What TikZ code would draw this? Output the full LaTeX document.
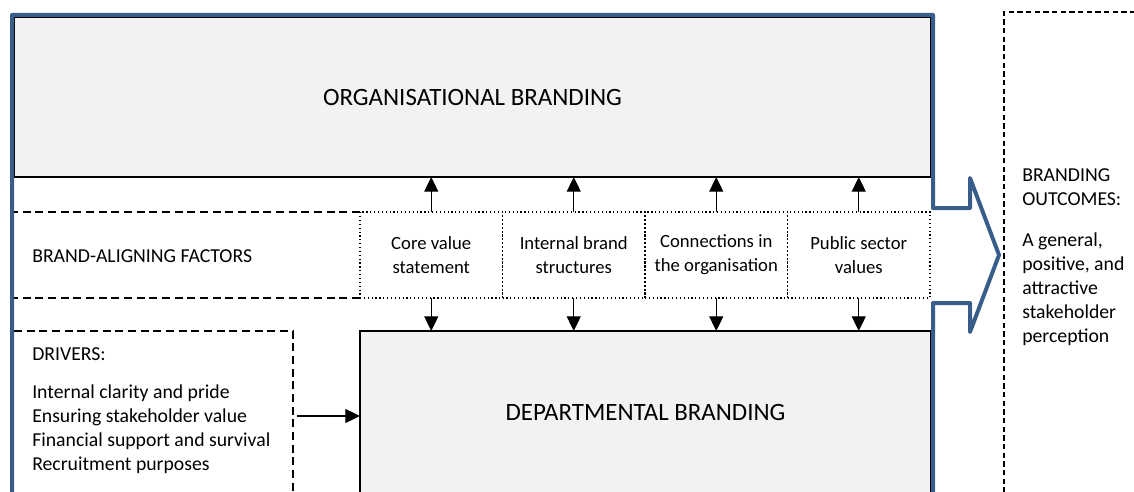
\documentclass[tikz,border=0pt]{standalone}
\usepackage{fontspec}
\setmainfont{Carlito}
\usepackage{tikz}
\usetikzlibrary{arrows.meta,positioning}
\definecolor{frameblue}{HTML}{385D8A}
\definecolor{boxgray}{HTML}{F2F2F2}
\tikzset{
  brandbox/.style={draw=black,line width=1.5pt,fill=boxgray,inner sep=0pt,outer sep=0pt,font=\fontsize{18.7}{22}\selectfont},
  factorbox/.style={draw,dotted,line width=0.9pt,minimum width=106.875pt,minimum height=64.5pt,align=center,inner sep=0pt,outer sep=0pt,font=\fontsize{14}{18}\selectfont},
  dashbox/.style={draw,dash pattern=on 6pt off 3.5pt,line width=1.4pt,inner sep=0pt,outer sep=0pt},
  plaintext/.style={align=left,anchor=west,inner sep=0pt,font=\fontsize{14.8}{18}\selectfont},
  flow/.style={-{Triangle[width=10.5pt,length=11pt]},line width=0.9pt},
}

\begin{document}
\begin{tikzpicture}[x=0.75pt,y=-0.75pt]
        \useasboundingbox (0,0) rectangle (1134,492);
        % outcome panel
        \node[dashbox,dash pattern=on 4pt off 2.5pt,line width=1pt,minimum width=109.5pt,minimum height=373.5pt] (OUT) at (1077,261) {};
        \node[plaintext] (OUTT) at (1022,257) {BRANDING\\OUTCOMES:\\[12.5pt]A general,\\positive, and\\attractive\\stakeholder\\perception};
        % the two branding levels
        \node[brandbox,minimum width=687.75pt,minimum height=120pt] (OB) at (472.5,97) {ORGANISATIONAL BRANDING};
        \node[brandbox,minimum width=428.25pt,minimum height=121.5pt] (DB) at (645.5,412) {DEPARTMENTAL BRANDING};
        % brand-aligning factors
        \node[factorbox] (F1) at (431.25,255) {Core value\\statement};
        \node[factorbox] (F2) at ([shift={+(142.5,0)}]F1) {Internal brand\\structures};
        \node[factorbox] (F3) at ([shift={+(142.5,0)}]F2) {Connections in\\the organisation};
        \node[factorbox] (F4) at ([shift={+(142.5,0)}]F3) {Public sector\\values};
        \node[plaintext] (BAF) at (32,256) {BRAND-ALIGNING FACTORS};
        \draw[dashbox] (F1.north west) -- (F1.north west -| 12,0);
        \draw[dashbox] (F1.south west) -- (F1.south west -| 12,0);
        \foreach \f in {F1,F2,F3,F4} {
            \draw[flow] (\f.north) -- (\f.north |- OB.south);
            \draw[flow] (\f.south) -- (\f.south |- DB.north);
        }
        % drivers
        \node[dashbox,line width=1.5pt,minimum width=210.75pt,minimum height=127.5pt] (DRV) at (152.5,416) {};
        \node[plaintext] (DRVT) at (32,411) {DRIVERS:\\[10.5pt]Internal clarity and pride\\Ensuring stakeholder value\\Financial support and survival\\Recruitment purposes};
        \draw[flow] ([xshift=3pt]DRV.east) -- (DRV.east -| DB.west);
        % frame with the outcome arrow
        \draw[frameblue,line width=3pt,line join=round] (12,510) -- (12,15) -- (933,15) -- (933,208) -- (970,208)
            -- (970,178) -- (999,255) -- (970,332) -- (970,303) -- (933,303) -- (933,510);
    \end{tikzpicture}
\end{document}
